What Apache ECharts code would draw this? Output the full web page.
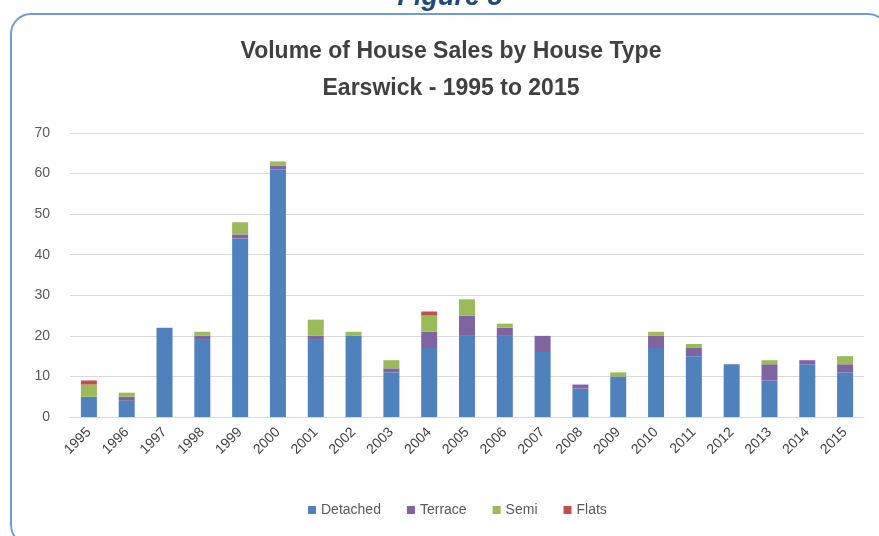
<!DOCTYPE html>
<html>
<head>
<meta charset="utf-8">
<script src="https://cdn.jsdelivr.net/npm/echarts@6/dist/echarts.min.js"></script>
<style>
  html, body { margin: 0; padding: 0; background: #ffffff; }
  #chart { width: 879px; height: 536px; }
</style>
</head>
<body>
<div id="chart"></div>
<script>
// Sales counts per year, split by house type
const years = ['1995','1996','1997','1998','1999','2000','2001','2002','2003','2004','2005',
               '2006','2007','2008','2009','2010','2011','2012','2013','2014','2015'];
const detached = [5, 4, 22, 19, 44, 61, 19, 20, 11, 17, 20, 20, 16, 7, 10, 17, 15, 13, 9, 13, 11];
const terrace  = [0, 1, 0, 1, 1, 1, 1, 0, 1, 4, 5, 2, 4, 1, 0, 3, 2, 0, 4, 1, 2];
const semi     = [3, 1, 0, 1, 3, 1, 4, 1, 2, 4, 4, 1, 0, 0, 1, 1, 1, 0, 1, 0, 2];
const flats    = [1, 0, 0, 0, 0, 0, 0, 0, 0, 1, 0, 0, 0, 0, 0, 0, 0, 0, 0, 0, 0];
const yTicks   = [0, 10, 20, 30, 40, 50, 60, 70];

const seriesDefs = [
  { name: 'Detached', data: detached, color: '#4f81bd' },
  { name: 'Terrace',  data: terrace,  color: '#8064a2' },
  { name: 'Semi',     data: semi,     color: '#9bbb59' },
  { name: 'Flats',    data: flats,    color: '#c0504d' }
];

const chart = echarts.init(document.getElementById('chart'), null, { renderer: 'canvas' });
const textFont = '"Liberation Sans", "DejaVu Sans", sans-serif';
const titleFont = 'bold 23px "Liberation Sans", sans-serif';

chart.setOption({
  animation: false,
  backgroundColor: '#ffffff',
  graphic: [
    {
      type: 'rect',
      shape: { x: 11, y: 14, width: 877, height: 531, r: 20 },
      style: { fill: 'none', stroke: '#6f9bd1', lineWidth: 2 },
      z: 0
    },
    {
      type: 'text',
      x: 450, y: 11,
      style: {
        text: 'Figure 5',
        fill: '#1f497d',
        font: 'italic bold 27px "Liberation Sans", sans-serif',
        align: 'center',
        verticalAlign: 'bottom'
      },
      z: 1
    },
    {
      type: 'text',
      x: 451, y: 52,
      style: {
        text: 'Volume of House Sales by House Type',
        fill: '#404040', font: titleFont,
        align: 'center', verticalAlign: 'middle'
      }
    },
    {
      type: 'text',
      x: 451, y: 89,
      style: {
        text: 'Earswick - 1995 to 2015',
        fill: '#404040', font: titleFont,
        align: 'center', verticalAlign: 'middle'
      }
    }
  ],
  legend: {
    bottom: 14,
    left: 303,
    itemWidth: 8,
    itemHeight: 8,
    itemGap: 26,
    icon: 'rect',
    textStyle: { fontFamily: textFont, fontSize: 14, color: '#595959' },
    data: seriesDefs.map(s => s.name)
  },
  grid: { left: 70, right: 15, top: 133, bottom: 119 },
  xAxis: {
    type: 'category',
    data: years,
    axisLine: { lineStyle: { color: '#d9d9d9', width: 1 } },
    axisTick: { show: false },
    axisLabel: {
      rotate: 45,
      interval: 0,
      margin: 13,
      fontFamily: textFont,
      fontSize: 14,
      color: '#404040'
    }
  },
  yAxis: {
    type: 'value',
    min: 0,
    max: yTicks[yTicks.length - 1],
    interval: 10,
    axisLine: { show: false },
    axisTick: { show: false },
    splitLine: { lineStyle: { color: '#d9d9d9', width: 1 } },
    axisLabel: {
      margin: 20,
      fontFamily: textFont,
      fontSize: 14,
      color: '#595959'
    }
  },
  series: seriesDefs.map(s => ({
    name: s.name,
    type: 'bar',
    stack: 'total',
    barWidth: 16,
    data: s.data,
    itemStyle: { color: s.color }
  }))
});
</script>
</body>
</html>
